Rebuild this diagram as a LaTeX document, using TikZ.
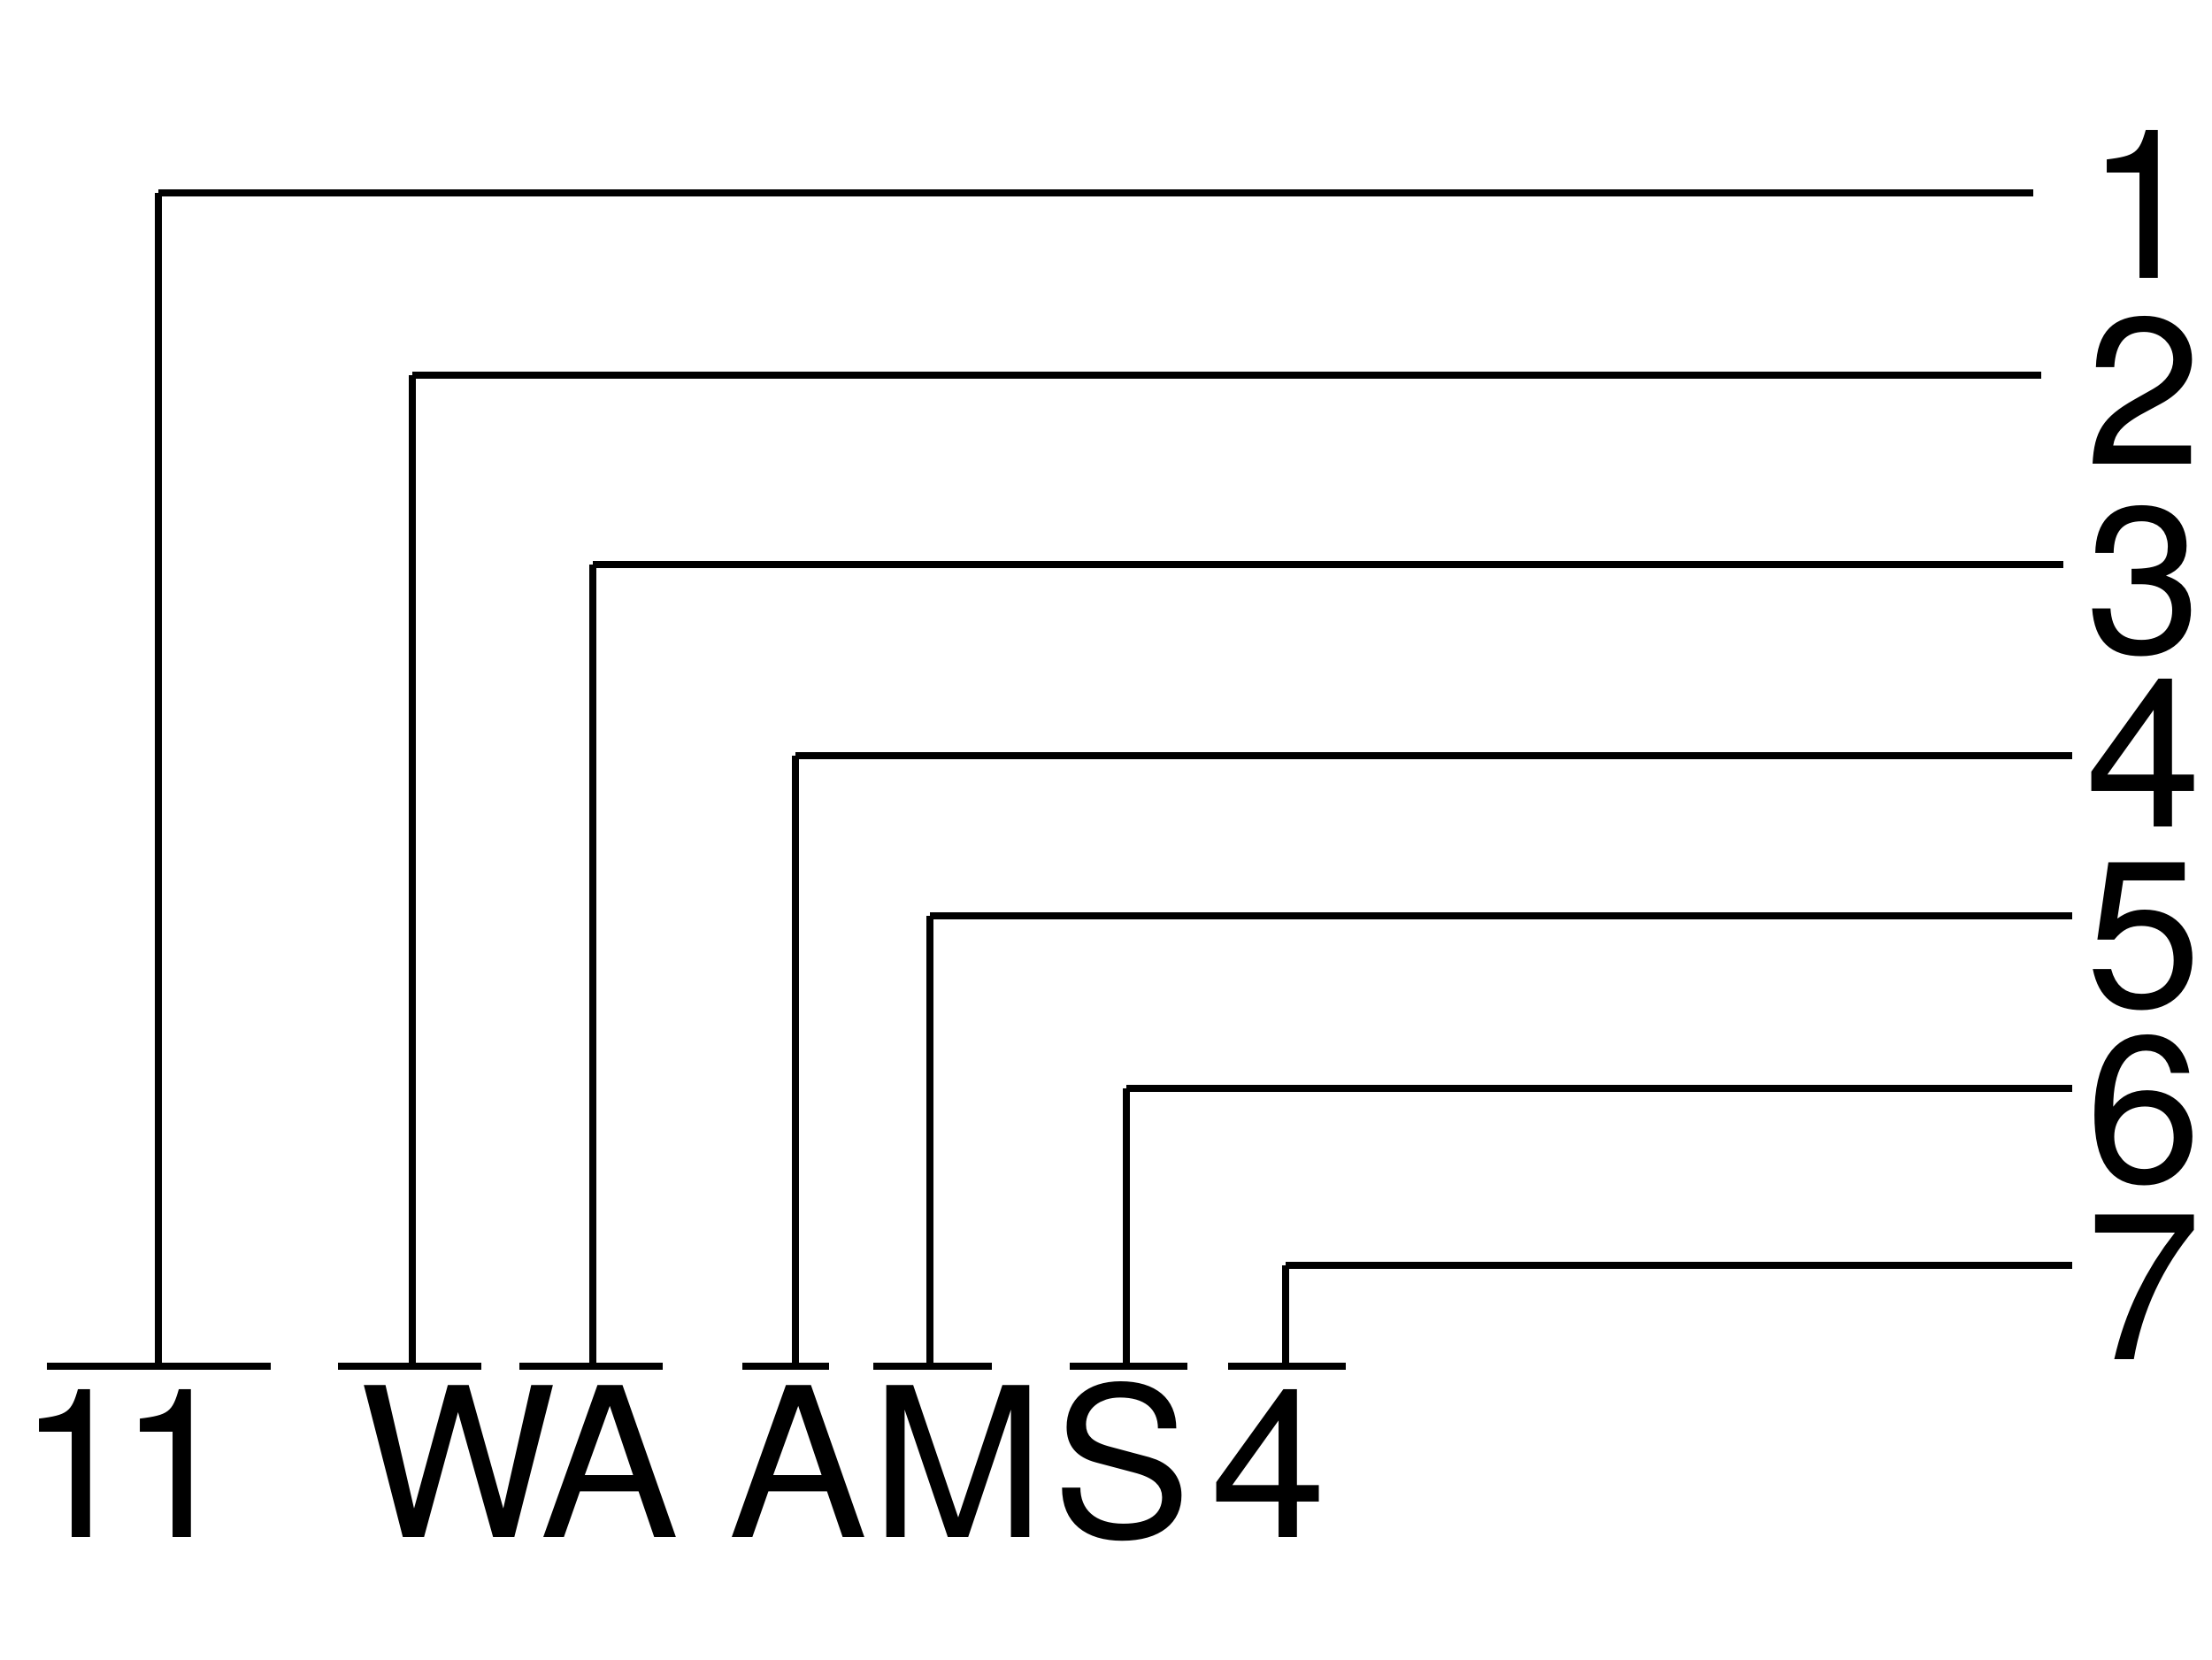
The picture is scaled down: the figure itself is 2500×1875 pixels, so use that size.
\documentclass[tikz,border=0pt]{standalone}
\usepackage{fontspec}
\setmainfont{TeX Gyre Heros}
\begin{document}
\begin{tikzpicture}[x=0.01cm,y=-0.01cm,
  link/.style={line width=2.1pt, line cap=butt, draw=black},
  lbl/.style={inner sep=0pt, anchor=base, font=\fontsize{67pt}{80pt}\selectfont}]
\useasboundingbox (0,0) rectangle (2500,1875);
\foreach \i/\sx/\ly/\le/\bl/\br/\tx/\lab/\nb in {
  1/179/218/2298/53/306/143/{1\kern-.074em1}/314,
  2/466/424/2307/382/544/517.5/W/524,
  3/670/638/2332/587/749/689.5/A/738,
  4/899/854/2342/839/937/902/A/934,
  5/1051/1035/2342/987/1121/1082.5/M/1138,
  6/1273/1230/2342/1209/1342/1268/S/1336,
  7/1453/1430/2342/1388/1521/1434/4/1536}
{
  \coordinate (bl\i) at (\bl,1544);
  \coordinate (br\i) at (\br,1544);
  \coordinate (foot\i) at (\sx,1544);
  \coordinate (corner\i) at (\sx,\ly);
  \coordinate (end\i) at (\le,\ly);
  \draw[link] (bl\i) -- (br\i);
  \draw[link] (foot\i) -- (corner\i);
  \draw[link] (corner\i) -- (end\i);
  \node[lbl] (leaf\i) at (\tx,1737) {\lab};
  \node[lbl] (num\i) at (2423,\nb) {\i};
}
\end{tikzpicture}
\end{document}
